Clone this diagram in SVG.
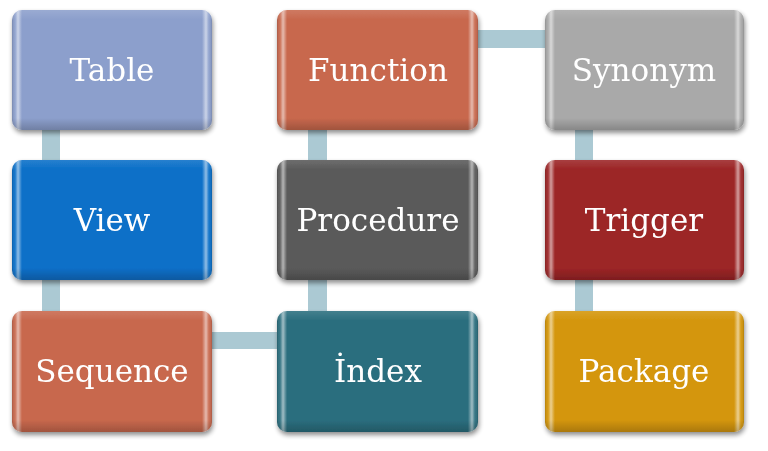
<svg xmlns="http://www.w3.org/2000/svg" width="768" height="451" viewBox="0 0 768 451">
<defs>
<style>
.bar{fill:#abc9d3}
.box{stroke:none}
.lbl{font-family:"DejaVu Serif","Liberation Serif",serif;font-size:31px;fill:#ffffff;text-anchor:middle}
</style>
<filter id="sh" x="-10%" y="-10%" width="125%" height="130%">
<feGaussianBlur in="SourceAlpha" stdDeviation="2.5"/>
<feOffset dx="1" dy="3" result="b"/>
<feComponentTransfer><feFuncA type="linear" slope="0.45"/></feComponentTransfer>
<feMerge><feMergeNode/><feMergeNode in="SourceGraphic"/></feMerge>
</filter>
<linearGradient id="hx" x1="0" y1="0" x2="1" y2="0">
<stop offset="0" stop-color="#000" stop-opacity="0.15"/>
<stop offset="0.015" stop-color="#fff" stop-opacity="0.05"/>
<stop offset="0.03" stop-color="#fff" stop-opacity="0.55"/>
<stop offset="0.05" stop-color="#fff" stop-opacity="0"/>
<stop offset="0.95" stop-color="#fff" stop-opacity="0"/>
<stop offset="0.97" stop-color="#fff" stop-opacity="0.55"/>
<stop offset="0.985" stop-color="#fff" stop-opacity="0.05"/>
<stop offset="1" stop-color="#000" stop-opacity="0.15"/>
</linearGradient>
<linearGradient id="hy" x1="0" y1="0" x2="0" y2="1">
<stop offset="0" stop-color="#fff" stop-opacity="0.12"/>
<stop offset="0.08" stop-color="#fff" stop-opacity="0"/>
<stop offset="0.9" stop-color="#000" stop-opacity="0"/>
<stop offset="1" stop-color="#000" stop-opacity="0.2"/>
</linearGradient>
</defs>
<rect width="768" height="451" fill="#ffffff"/>
<g id="connectors">
<rect class="bar" x="42" y="125" width="18" height="40"/>
<rect class="bar" x="42" y="275" width="18" height="41"/>
<rect class="bar" x="207" y="332" width="75" height="17"/>
<rect class="bar" x="308" y="125" width="19" height="40"/>
<rect class="bar" x="308" y="275" width="19" height="41"/>
<rect class="bar" x="473" y="30" width="77" height="18"/>
<rect class="bar" x="575" y="125" width="18" height="40"/>
<rect class="bar" x="575" y="275" width="18" height="41"/>
</g>
<g id="table" filter="url(#sh)">
<rect class="box" x="12" y="10" width="200" height="120" rx="10" fill="#8c9fcc"/>
<rect x="12" y="10" width="200" height="120" rx="10" fill="url(#hx)"/>
<rect x="12" y="10" width="200" height="120" rx="10" fill="url(#hy)"/>
<text class="lbl" x="112" y="81">Table</text>
</g>
<g id="view" filter="url(#sh)">
<rect class="box" x="12" y="160" width="200" height="120" rx="10" fill="#0a6fc8"/>
<rect x="12" y="160" width="200" height="120" rx="10" fill="url(#hx)"/>
<rect x="12" y="160" width="200" height="120" rx="10" fill="url(#hy)"/>
<text class="lbl" x="112" y="231">View</text>
</g>
<g id="sequence" filter="url(#sh)">
<rect class="box" x="12" y="311" width="200" height="121" rx="10" fill="#c8684d"/>
<rect x="12" y="311" width="200" height="121" rx="10" fill="url(#hx)"/>
<rect x="12" y="311" width="200" height="121" rx="10" fill="url(#hy)"/>
<text class="lbl" x="112" y="382">Sequence</text>
</g>
<g id="function" filter="url(#sh)">
<rect class="box" x="277" y="10" width="201" height="120" rx="10" fill="#c8684d"/>
<rect x="277" y="10" width="201" height="120" rx="10" fill="url(#hx)"/>
<rect x="277" y="10" width="201" height="120" rx="10" fill="url(#hy)"/>
<text class="lbl" x="378" y="81">Function</text>
</g>
<g id="procedure" filter="url(#sh)">
<rect class="box" x="277" y="160" width="201" height="120" rx="10" fill="#5a5a5a"/>
<rect x="277" y="160" width="201" height="120" rx="10" fill="url(#hx)"/>
<rect x="277" y="160" width="201" height="120" rx="10" fill="url(#hy)"/>
<text class="lbl" x="378" y="231">Procedure</text>
</g>
<g id="index" filter="url(#sh)">
<rect class="box" x="277" y="311" width="201" height="121" rx="10" fill="#2b6e7e"/>
<rect x="277" y="311" width="201" height="121" rx="10" fill="url(#hx)"/>
<rect x="277" y="311" width="201" height="121" rx="10" fill="url(#hy)"/>
<text class="lbl" x="378" y="382">İndex</text>
</g>
<g id="synonym" filter="url(#sh)">
<rect class="box" x="545" y="10" width="199" height="120" rx="10" fill="#a9a9a9"/>
<rect x="545" y="10" width="199" height="120" rx="10" fill="url(#hx)"/>
<rect x="545" y="10" width="199" height="120" rx="10" fill="url(#hy)"/>
<text class="lbl" x="644" y="81">Synonym</text>
</g>
<g id="trigger" filter="url(#sh)">
<rect class="box" x="545" y="160" width="199" height="120" rx="10" fill="#9c2526"/>
<rect x="545" y="160" width="199" height="120" rx="10" fill="url(#hx)"/>
<rect x="545" y="160" width="199" height="120" rx="10" fill="url(#hy)"/>
<text class="lbl" x="644" y="231">Trigger</text>
</g>
<g id="package" filter="url(#sh)">
<rect class="box" x="545" y="311" width="199" height="121" rx="10" fill="#d4960b"/>
<rect x="545" y="311" width="199" height="121" rx="10" fill="url(#hx)"/>
<rect x="545" y="311" width="199" height="121" rx="10" fill="url(#hy)"/>
<text class="lbl" x="644" y="382">Package</text>
</g>
</svg>
